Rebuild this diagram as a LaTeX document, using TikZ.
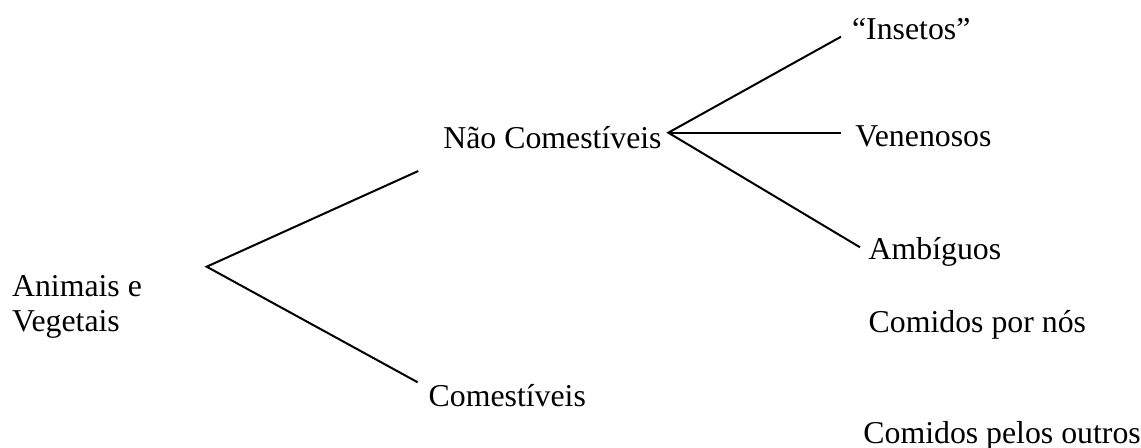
\documentclass[tikz,border=0pt]{standalone}
\usepackage{fontspec}
\setmainfont{Liberation Serif}
\usepackage{tikz}

\begin{document}
\begin{tikzpicture}[
    x=0.5pt, y=-0.5pt,
    word/.style={anchor=base west, inner sep=0pt, font=\fontsize{15.9}{17.5}\selectfont, align=left},
    branch/.style={line width=1pt}
]
    \useasboundingbox (0,0) rectangle (1141,448);

    % Root
    \node[word] (root) at (11.7,331.7) {Animais e\\Vegetais};
    \coordinate (root_fork) at (206.7,266.7);

    % First level
    \node[word] (nao_com) at (443,148.5) {Não Comestíveis};
    \node[word] (com) at (428.3,406.7) {Comestíveis};
    \coordinate (nao_com_in) at (418.3,171);
    \coordinate (com_in) at (417.7,382.3);
    \coordinate (nao_com_fork) at (668.3,132.7);

    \draw[branch] (nao_com_in) -- (root_fork) -- (com_in);

    % Second level
    \node[word] (insetos) at (851.7,40) {“Insetos”};
    \node[word] (venenosos) at (855,147) {Venenosos};
    \node[word] (ambiguos) at (868.3,259.3) {Ambíguos};
    \node[word] (por_nos) at (868.3,332.3) {Comidos por nós};
    \node[word] (pelos_outros) at (863,443.3) {Comidos pelos outros};
    \coordinate (insetos_in) at (841,36.7);
    \coordinate (venenosos_in) at (840.7,132.7);
    \coordinate (ambiguos_in) at (860,247.3);

    \draw[branch] (insetos_in) -- (nao_com_fork) -- (ambiguos_in);
    \draw[branch] (nao_com_fork) -- (venenosos_in);
\end{tikzpicture}
\end{document}
